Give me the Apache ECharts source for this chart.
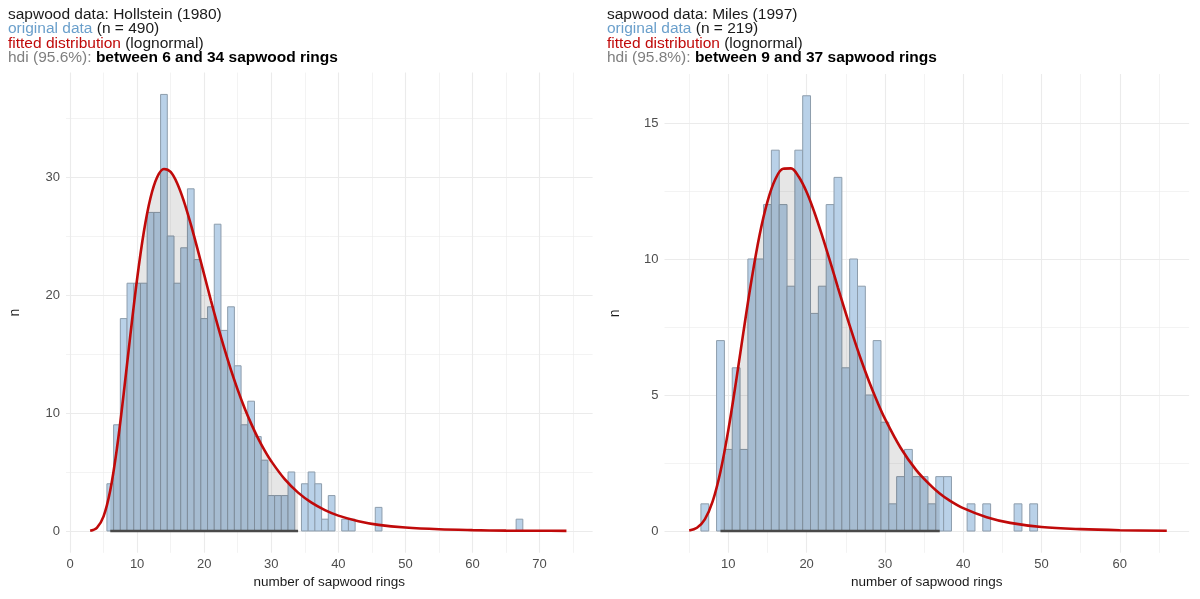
<!DOCTYPE html>
<html>
<head>
<meta charset="utf-8">
<script src="https://cdn.jsdelivr.net/npm/echarts@6/dist/echarts.min.js"></script>
<style>
  html, body { margin: 0; padding: 0; background: #ffffff; }
  #chart { width: 1200px; height: 599px; }
</style>
</head>
<body>
<div id="chart"></div>
<script>
// ---------- data: Hollstein (1980) ----------
const ringsH  = [6,7,8,9,10,11,12,13,14,15,16,17,18,19,20,21,22,23,24,25,26,27,28,29,30,31,32,33,35,36,37,38,39,41,42,46,67];
const countsH = [4,9,18,21,21,21,27,27,37,25,21,24,29,23,18,19,26,17,19,14,9,11,8,6,3,3,3,5,4,5,4,1,3,1,1,2,1];
const curveXH = [3,4,5,6,7,8,9,10,11,12,13,14,15,16,17,18,19,20,21,22,23,24,25,26,27,28,29,30,32,34,36,38,40,43,46,50,55,60,65,70,74];
const curveYH = [0.02,0.27,1.24,3.45,7.03,11.64,16.64,21.37,25.34,28.24,30.00,30.68,30.43,29.43,27.90,26.01,23.91,21.73,19.55,17.45,15.47,13.63,11.96,10.45,9.10,7.89,6.83,5.91,4.39,3.25,2.40,1.77,1.30,0.83,0.52,0.29,0.14,0.07,0.03,0.02,0.01];
const hdiH = [6, 34];

// ---------- data: Miles (1997) ----------
const ringsM  = [7,9,10,11,12,13,14,15,16,17,18,19,20,21,22,23,24,25,26,27,28,29,30,31,32,33,34,35,36,37,38,41,43,47,49];
const countsM = [1,7,3,6,3,10,10,12,14,12,9,14,16,8,9,12,13,6,10,9,5,7,4,1,2,3,2,2,1,2,2,1,1,1,1];
const curveXM = [5,6,7,8,9,10,11,12,13,14,15,16,17,18,19,20,21,22,23,24,25,26,27,28,29,30,32,34,36,37,38,40,43,46,50,55,60,66];
const curveYM = [0.02,0.12,0.43,1.09,2.19,3.71,5.52,7.45,9.29,10.89,12.11,12.93,13.32,13.33,13.02,12.46,11.71,10.84,9.91,8.95,8.01,7.11,6.26,5.48,4.77,4.13,3.06,2.24,1.63,1.38,1.17,0.84,0.51,0.30,0.15,0.07,0.03,0.01];
const hdiM = [9, 37];

// ---------- tick labels ----------
const xMajorH = [0,10,20,30,40,50,60,70];
const xMinorH = [5,15,25,35,45,55,65,75];
const yMajorH = [0,10,20,30];
const yMinorH = [5,15,25,35];
const xMajorM = [10,20,30,40,50,60];
const xMinorM = [5,15,25,35,45,55,65];
const yMajorM = [0,5,10,15];
const yMinorM = [2.5,7.5,12.5];

const FONT = '"Liberation Sans", Arial, Helvetica, sans-serif';
const GRID_COL = '#ebebeb';

function zip(a, b) { return a.map((v, i) => [v, b[i]]); }
function within(xs, ys, lo, hi) {
  const out = [];
  xs.forEach((x, i) => { if (x >= lo && x <= hi) out.push([x, ys[i]]); });
  return out;
}

function barRender(params, api) {
  const x = api.value(0), y = api.value(1);
  const p0 = api.coord([x - 0.5, y]);
  const p1 = api.coord([x + 0.5, 0]);
  return {
    type: 'rect',
    shape: { x: p0[0], y: p0[1], width: p1[0] - p0[0], height: p1[1] - p0[1] },
    style: { fill: '#b9d1e8', stroke: '#8d9dac', lineWidth: 1 }
  };
}

function majorX(gi, min, max, ticks) {
  return {
    type: 'value', gridIndex: gi, min: min, max: max,
    axisLine: { show: false }, axisTick: { show: false, customValues: ticks },
    axisLabel: { customValues: ticks, color: '#4d4d4d', fontSize: 13, fontFamily: FONT, margin: 5 },
    splitLine: { show: true, lineStyle: { color: GRID_COL, width: 1.1 } },
    name: 'number of sapwood rings', nameLocation: 'middle', nameGap: 22,
    nameTextStyle: { color: '#1a1a1a', fontSize: 13.5, fontFamily: FONT }
  };
}
function minorX(gi, min, max, ticks) {
  return {
    type: 'value', gridIndex: gi, min: min, max: max, position: 'bottom',
    axisLine: { show: false }, axisTick: { show: false, customValues: ticks },
    axisLabel: { show: false, customValues: ticks },
    splitLine: { show: true, lineStyle: { color: GRID_COL, width: 0.6 } }
  };
}
function majorY(gi, min, max, ticks, gap) {
  return {
    type: 'value', gridIndex: gi, min: min, max: max,
    axisLine: { show: false }, axisTick: { show: false, customValues: ticks },
    axisLabel: { customValues: ticks, color: '#4d4d4d', fontSize: 13, fontFamily: FONT, margin: 6 },
    splitLine: { show: true, lineStyle: { color: GRID_COL, width: 1.1 } },
    name: 'n', nameLocation: 'middle', nameGap: gap, nameRotate: 90,
    nameTextStyle: { color: '#1a1a1a', fontSize: 14, fontFamily: FONT }
  };
}
function minorY(gi, min, max, ticks) {
  return {
    type: 'value', gridIndex: gi, min: min, max: max, position: 'left',
    axisLine: { show: false }, axisTick: { show: false, customValues: ticks },
    axisLabel: { show: false, customValues: ticks },
    splitLine: { show: true, lineStyle: { color: GRID_COL, width: 0.6 } }
  };
}

function panelSeries(xi, yi, rings, counts, cx, cy, hdi) {
  return [
    {
      type: 'custom', xAxisIndex: xi, yAxisIndex: yi,
      renderItem: barRender, data: zip(rings, counts), encode: { x: 0, y: 1 }, z: 2
    },
    {
      type: 'line', xAxisIndex: xi, yAxisIndex: yi, data: within(cx, cy, hdi[0], hdi[1]),
      smooth: 0.35, showSymbol: false, symbol: 'none',
      lineStyle: { width: 0, opacity: 0 },
      areaStyle: { color: 'rgba(0,0,0,0.14)', origin: 'auto' }, z: 3, silent: true
    },
    {
      type: 'line', xAxisIndex: xi, yAxisIndex: yi, data: [[hdi[0], 0], [hdi[1], 0]],
      showSymbol: false, symbol: 'none', lineStyle: { color: '#4a4a4a', width: 2.4 }, z: 4
    },
    {
      type: 'line', xAxisIndex: xi, yAxisIndex: yi, data: zip(cx, cy),
      smooth: 0.35, showSymbol: false, symbol: 'none',
      lineStyle: { color: '#c00a0a', width: 2.6 }, z: 5
    }
  ];
}

function titleRich(source, n, pct, lo, hi) {
  return '{a|sapwood data: ' + source + '}\n' +
         '{b|original data}{a| (n = ' + n + ')}\n' +
         '{c|fitted distribution}{a| (lognormal)}\n' +
         '{d|hdi (' + pct + '%):}{e| between ' + lo + ' and ' + hi + ' sapwood rings}';
}
const TS = 15.5, LH = 14.5;
const rich = {
  a: { color: '#1a1a1a', fontSize: TS, fontFamily: FONT, fontWeight: 'normal', lineHeight: LH },
  b: { color: '#6a9fcb', fontSize: TS, fontFamily: FONT, fontWeight: 'normal', lineHeight: LH },
  c: { color: '#c00a0a', fontSize: TS, fontFamily: FONT, fontWeight: 'normal', lineHeight: LH },
  d: { color: '#7f7f7f', fontSize: TS, fontFamily: FONT, fontWeight: 'normal', lineHeight: LH },
  e: { color: '#000000', fontSize: TS, fontFamily: FONT, fontWeight: 'bold', lineHeight: LH }
};

const chart = echarts.init(document.getElementById('chart'), null, { renderer: 'canvas' });
chart.setOption({
  animation: false,
  backgroundColor: '#ffffff',
  title: [
    { left: 8, top: 7, padding: 0, text: titleRich('Hollstein (1980)', 490, '95.6', hdiH[0], hdiH[1]),
      textStyle: { fontWeight: 'normal', fontFamily: FONT, fontSize: TS, rich: rich } },
    { left: 607, top: 7, padding: 0, text: titleRich('Miles (1997)', 219, '95.8', hdiM[0], hdiM[1]),
      textStyle: { fontWeight: 'normal', fontFamily: FONT, fontSize: TS, rich: rich } }
  ],
  grid: [
    { left: 66, right: 607.4, top: 72.6, bottom: 46.2 },
    { left: 664.5, right: 10.9, top: 74.0, bottom: 46.2 }
  ],
  xAxis: [
    majorX(0, -0.6, 77.9, xMajorH),
    minorX(0, -0.6, 77.9, xMinorH),
    majorX(1, 1.85, 68.85, xMajorM),
    minorX(1, 1.85, 68.85, xMinorM)
  ],
  yAxis: [
    majorY(0, -1.85, 38.85, yMajorH, 44),
    minorY(0, -1.85, 38.85, yMinorH),
    majorY(1, -0.8, 16.8, yMajorM, 42),
    minorY(1, -0.8, 16.8, yMinorM)
  ],
  series: [].concat(
    panelSeries(0, 0, ringsH, countsH, curveXH, curveYH, hdiH),
    panelSeries(2, 2, ringsM, countsM, curveXM, curveYM, hdiM)
  )
});
</script>
</body>
</html>
